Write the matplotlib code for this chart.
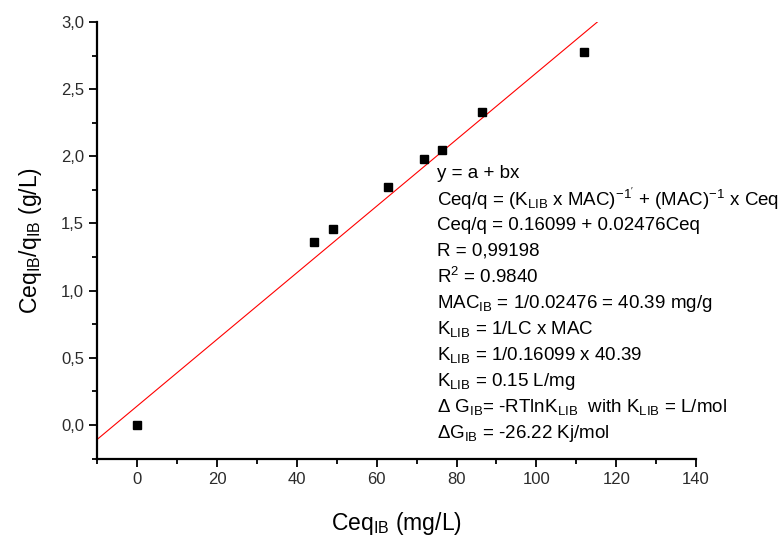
import numpy as np
import matplotlib
matplotlib.use("Agg")
import matplotlib.pyplot as plt
from matplotlib.ticker import MultipleLocator, FuncFormatter

plt.rcParams['font.family'] = ['Liberation Sans', 'DejaVu Sans']
plt.rcParams['mathtext.fontset'] = 'custom'
plt.rcParams['mathtext.rm'] = 'Liberation Sans'
plt.rcParams['mathtext.default'] = 'regular'

# data
ceq = [0.0, 44.4, 49.1, 62.9, 71.8, 76.3, 86.5, 111.9]
ceq_q = [0.0, 1.36, 1.46, 1.77, 1.98, 2.05, 2.33, 2.78]
fit_a = 0.141
fit_b = 0.0248

notes = [
    "y = a + bx",
    r"Ceq/q = (K$_{LIB}$ x MAC)$^{-1'}$ + (MAC)$^{-1}$ x Ceq",
    "Ceq/q = 0.16099 + 0.02476Ceq",
    "R = 0,99198",
    r"R$^{2}$ = 0.9840",
    r"MAC$_{IB}$ = 1/0.02476 = 40.39 mg/g",
    r"K$_{LIB}$ = 1/LC x MAC",
    r"K$_{LIB}$ = 1/0.16099 x 40.39",
    r"K$_{LIB}$ = 0.15 L/mg",
    r"Δ G$_{IB}$= -RTlnK$_{LIB}$  with K$_{LIB}$ = L/mol",
    r"ΔG$_{IB}$ = -26.22 Kj/mol",
]

fig = plt.figure(figsize=(7.79, 5.40), dpi=100)
ax = fig.add_axes([0.1249, 0.1509, 0.7686, 0.8084])

xs = np.array([-10, 140])
ax.plot(xs, fit_a + fit_b * xs, color='red', lw=0.8)
ax.plot(ceq, ceq_q, 's', color='black', ms=6, clip_on=False)

ax.set_xlim(-10, 140)
ax.set_ylim(-0.25, 3.0)

ax.spines['top'].set_visible(False)
ax.spines['right'].set_visible(False)
ax.spines['left'].set_linewidth(1.6)
ax.spines['bottom'].set_linewidth(1.6)

ax.xaxis.set_major_locator(MultipleLocator(20))
ax.xaxis.set_minor_locator(MultipleLocator(10))
ax.yaxis.set_major_locator(MultipleLocator(0.5))
ax.yaxis.set_minor_locator(MultipleLocator(0.25))
ax.yaxis.set_major_formatter(FuncFormatter(lambda v, p: f"{v:.1f}".replace('.', ',')))
ax.xaxis.set_major_formatter(FuncFormatter(lambda v, p: f"{v:.0f}"))

ax.tick_params(which='major', direction='out', length=6, width=1.3,
               labelsize=12, labelcolor='#2b2b2b')
ax.tick_params(which='minor', direction='out', length=3.5, width=1.3)
for lab in ax.get_xticklabels():
    lab.set_family(['Liberation Sans Narrow', 'Liberation Sans'])

ax.set_xlabel(r"Ceq$_{IB}$ (mg/L)", fontsize=16.5, labelpad=17)
ax.set_ylabel(r"Ceq$_{IB}$/q$_{IB}$ (g/L)", fontsize=16.5, labelpad=12)

for i, t in enumerate(notes):
    y = 1 - (173 + 26 * i) / 540
    fig.text(437 / 779, y, t, fontsize=13.5, va='center', ha='left')

fig.savefig("out.png", dpi=100)
